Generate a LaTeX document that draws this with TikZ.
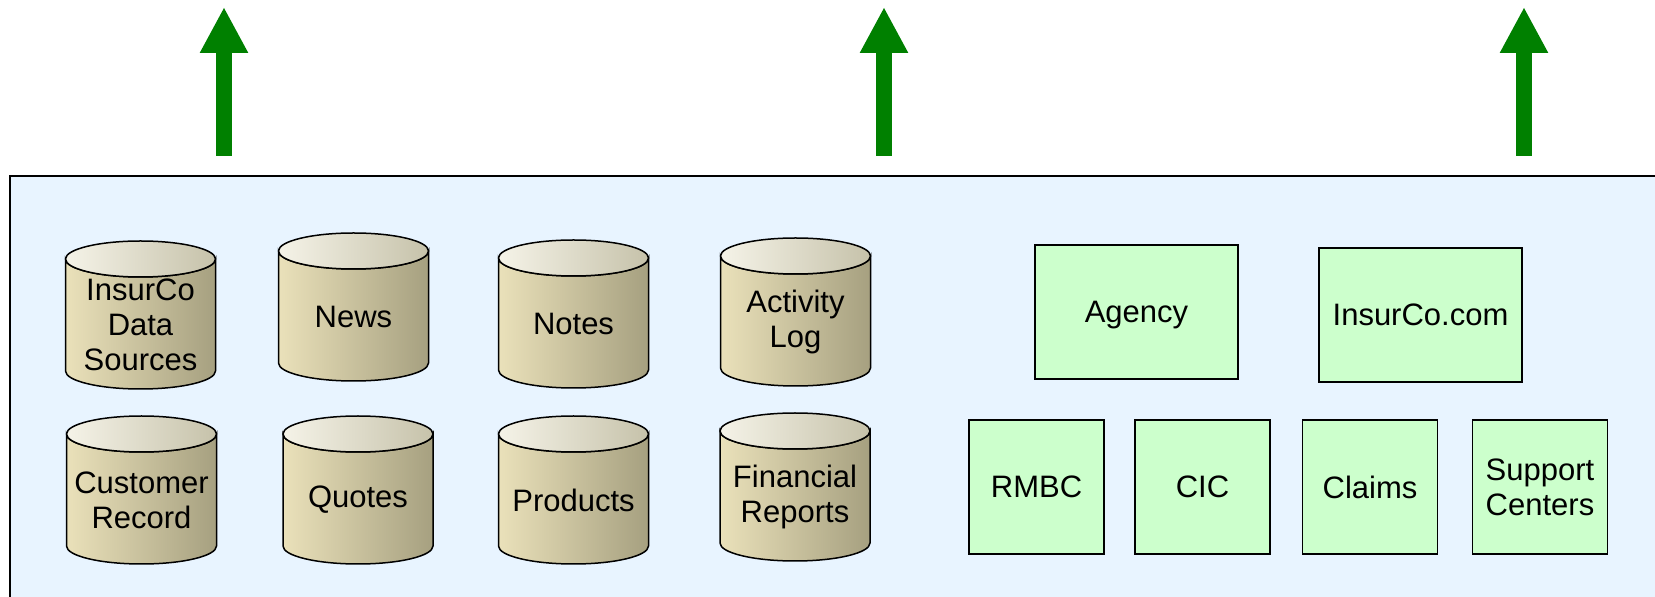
\documentclass[tikz,border=0pt]{standalone}
\usepackage{fontspec}
\setmainfont{Liberation Sans}
\usetikzlibrary{arrows.meta}

\definecolor{panelblue}{RGB}{232,244,255}
\definecolor{boxgreen}{RGB}{204,255,204}
\definecolor{arrowgreen}{RGB}{0,128,0}
\definecolor{dbSideLeft}{RGB}{234,225,186}
\definecolor{dbSideRight}{RGB}{166,160,128}
\definecolor{dbTopLeft}{RGB}{245,243,232}
\definecolor{dbTopRight}{RGB}{198,194,170}

\tikzset{
  dbtext/.style={font=\fontsize{31}{35}\selectfont, align=center, inner sep=0pt},
  svcbox/.style={dbtext, draw=black, line width=1.5pt, fill=boxgreen},
  dbside/.style={draw=black, line width=1.5pt, left color=dbSideLeft, right color=dbSideRight},
  dbtop/.style={draw=black, line width=1.5pt, left color=dbTopLeft, right color=dbTopRight},
  uparrow/.style={draw=arrowgreen, line width=16pt, -{Triangle[width=45pt, length=46pt, fill=arrowgreen]}},
}

\begin{document}
\begin{tikzpicture}[x=1pt, y=1pt]

    \newcommand*{\picW}{1655}%
    \newcommand*{\picH}{597}%
    \newcommand*{\dbRx}{75}% half width of a store
    \newcommand*{\dbRy}{18}% lid radius
    \newcommand*{\dbH}{148}%
    \def\panelTop{421}

    \useasboundingbox (0,0) rectangle (\picW,\picH);

    % back panel, runs off the right and bottom edges
    \fill[panelblue] (10,0) rectangle (\picW,\panelTop);
    \draw[line width=2pt] (10,0) |- (\picW,\panelTop);

    % arrows leaving the panel
    \foreach \x [count=\i] in {224, 884, 1524} {
      \coordinate (arrowFoot\i) at (\x, 441);
      \coordinate (arrowTip\i) at (\x, 590);
      \draw[uparrow] (arrowFoot\i) -- (arrowTip\i);
    }

    % data stores
    \foreach \cx/\ytop/\nm/\txt in {
        140.5/356/dbSources/{InsurCo\\Data\\Sources},
        353.5/364/dbNews/News,
        573.5/357/dbNotes/Notes,
        795.5/359/dbActivity/{Activity\\Log},
        141.5/181/dbCustomer/{Customer\\Record},
        358/181/dbQuotes/Quotes,
        573.5/181/dbProducts/Products,
        795/184/dbFinancial/{Financial\\Reports}} {
      \pgfmathsetmacro\ylid{\ytop-\dbRy}
      \pgfmathsetmacro\ybase{\ytop-\dbH+\dbRy}
      \draw[dbside] (\cx-\dbRx, \ylid) -- (\cx-\dbRx, \ybase)
        arc[start angle=180, end angle=360, x radius=\dbRx, y radius=\dbRy]
        -- (\cx+\dbRx, \ylid)
        arc[start angle=0, end angle=-180, x radius=\dbRx, y radius=\dbRy] -- cycle;
      \draw[dbtop] (\cx, \ylid) ellipse [x radius=\dbRx, y radius=\dbRy];
      \node[dbtext] (\nm) at (\cx, \ytop-84) {\txt};
    }

    % channels
    \node[svcbox, minimum width=203, minimum height=134, text depth=0pt] (agency) at (1136.5, 285) {Agency};
    \node[svcbox, minimum width=203, minimum height=134] (insurcoCom) at (1420.5, 282) {InsurCo.com};
    \foreach \cx/\nm/\txt in {1036.5/rmbc/RMBC, 1202.5/cic/CIC, 1370/claims/Claims,
        1540/support/{Support\\Centers}} {
      \node[svcbox, minimum width=135, minimum height=134] (\nm) at (\cx, 110) {\txt};
    }
\end{tikzpicture}
\end{document}
